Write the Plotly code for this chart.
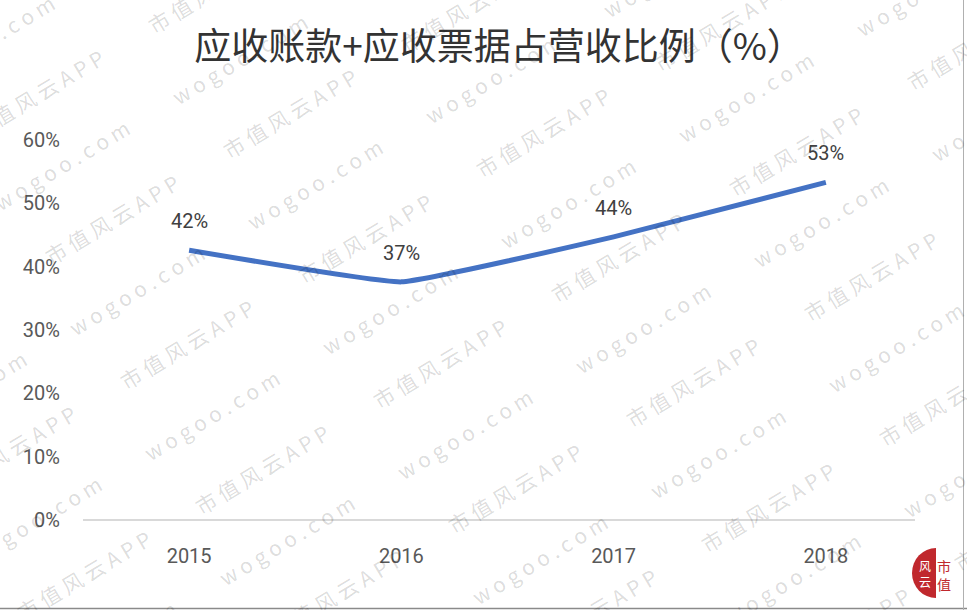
import plotly.graph_objects as go

# data
years = ["2015", "2016", "2017", "2018"]
ratio = [42.6, 37.6, 44.7, 53.3]          # 应收账款+应收票据占营收比例 (%)
ratio_labels = ["42%", "37%", "44%", "53%"]
y_ticks = [0, 10, 20, 30, 40, 50, 60]

W, H = 967, 610
L, R, T, B = 83, 915, 140, 520   # plot area in pixels


def px(x):
    return (x - L) / (R - L)


def py(y):
    return (B - y) / (B - T)


fig = go.Figure()

fig.add_trace(go.Scatter(
    x=list(range(len(years))),
    y=ratio,
    mode="lines",
    line=dict(color="#4472C4", width=5, shape="spline", smoothing=0.3),
    hoverinfo="skip",
    showlegend=False,
))

annotations = []

# watermark lattice (市值风云APP / wogoo.com)
a = (178, -106)
b = (75, 125)
c = (51, 54)
w0 = (567, 203)
wm_font = dict(family="Noto Sans CJK SC", size=21, color="rgba(0,0,0,0.15)")
for i in range(-8, 9):
    for j in range(-8, 9):
        wx = w0[0] + i * a[0] + j * b[0]
        wy = w0[1] + i * a[1] + j * b[1]
        for txt, (x, y) in (("w o g o o . c o m", (wx, wy)),
                            ("市 值 风 云 A P P", (wx + c[0], wy + c[1]))):
            if -120 < x < W + 120 and -80 < y < H + 80:
                annotations.append(dict(
                    x=px(x), y=py(y), xref="paper", yref="paper",
                    text=txt, showarrow=False, textangle=-31,
                    font=wm_font, xanchor="center", yanchor="middle",
                ))

# data labels
for i, (v, lab) in enumerate(zip(ratio, ratio_labels)):
    annotations.append(dict(
        x=i, y=v, xref="x", yref="y", text=lab, showarrow=False,
        yshift=29, font=dict(family="Roboto", size=20, color="#404040"),
    ))

# logo
annotations.append(dict(
    x=px(925), y=py(573), xref="paper", yref="paper", text="风<br>云",
    xanchor="center", yanchor="middle", showarrow=False,
    font=dict(family="Noto Sans CJK SC", size=12, color="white"),
))
annotations.append(dict(
    x=px(944), y=py(575), xref="paper", yref="paper", text="市<br>值",
    xanchor="center", yanchor="middle", showarrow=False,
    font=dict(family="Noto Sans CJK SC", size=14, color="#c0282d"),
))

shapes = [
    dict(type="circle", xref="paper", yref="paper",
         x0=px(912), x1=px(960), y0=py(598), y1=py(548),
         fillcolor="#c0282d", line=dict(width=0), layer="above"),
    dict(type="rect", xref="paper", yref="paper",
         x0=px(936), x1=px(962), y0=py(600), y1=py(546),
         fillcolor="white", line=dict(width=0), layer="above"),
    dict(type="line", xref="paper", yref="paper",
         x0=px(0), x1=px(967), y0=py(608.5), y1=py(608.5),
         line=dict(color="#8a8a8a", width=1.5)),
    dict(type="line", xref="paper", yref="paper",
         x0=px(963.5), x1=px(963.5), y0=py(0), y1=py(610),
         line=dict(color="#b0b0b0", width=1)),
]

fig.update_layout(
    width=W, height=H,
    margin=dict(l=L, r=W - R, t=T, b=H - B),
    paper_bgcolor="white", plot_bgcolor="rgba(0,0,0,0)",
    title=dict(
        text="应收账款+应收票据占营收比例（%）",
        x=0.5, xref="paper", xanchor="center",
        y=1 - 47 / H, yanchor="middle",
        font=dict(family="Noto Sans CJK SC", size=37, color="#333333"),
    ),
    xaxis=dict(
        range=[-0.5, 3.42], tickmode="array",
        tickvals=list(range(len(years))), ticktext=years,
        showgrid=False, zeroline=False, showline=False, ticks="",
        tickfont=dict(family="Roboto", size=20, color="#595959"),
        ticklabelstandoff=22,
    ),
    yaxis=dict(
        range=[0, 60], tickmode="array", tickvals=y_ticks,
        ticktext=[f"{v}%" for v in y_ticks],
        showgrid=False, zeroline=True, zerolinecolor="#d9d9d9", zerolinewidth=2,
        showline=False, ticks="",
        tickfont=dict(family="Roboto", size=20, color="#595959"),
        ticklabelstandoff=22,
    ),
    annotations=annotations,
    shapes=shapes,
)

fig.write_html("out.html", config={"displayModeBar": False},
               post_script="document.body.style.margin='0';")
